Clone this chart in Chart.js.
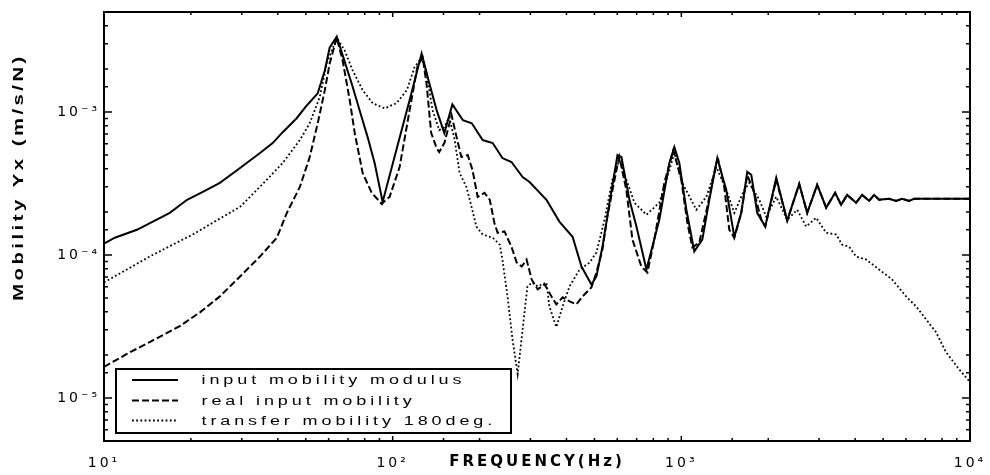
<!DOCTYPE html>
<html><head><meta charset="utf-8">
<style>html,body{margin:0;padding:0;background:#fff;}#wrap{width:990px;height:475px;}</style>
<script src="https://cdn.jsdelivr.net/npm/chart.js@4.4.1/dist/chart.umd.min.js"></script>
</head><body><div id="wrap"><canvas id="c" width="990" height="475"></canvas></div>
<script>
// ---- data (Hz, m/s/N) ----
const freqModulus = [10,10.9,13.0,16.9,19.4,22.0,25.2,29.6,34.7,38.4,41.6,46.5,50.4,55.0,58.2,60.5,64.0,72.1,78.1,81.9,86.6,92.3,103,114.5,126,134,142,151,161,175,188,205,222,240,258,282,298,341,378,420,451,488,508,533,564,601,620,661,699,757,839,909,946,984,1041,1109,1182,1250,1332,1431,1526,1613,1692,1747,1832,1953,2132,2327,2561,2729,2955,3175,3411,3577,3753,4032,4229,4472,4654,4843,5245,5545,5816,6151,6401,10000];
const modulus = [1.20e-4,1.32e-4,1.50e-4,1.97e-4,2.43e-4,2.76e-4,3.19e-4,4.06e-4,5.16e-4,6.06e-4,7.22e-4,9.04e-4,1.11e-3,1.35e-3,1.95e-3,2.82e-3,3.36e-3,1.58e-3,9.19e-4,6.67e-4,4.40e-4,2.35e-4,5.42e-4,1.21e-3,2.56e-3,1.58e-3,1.03e-3,7.11e-4,1.13e-3,8.76e-4,8.34e-4,6.36e-4,6.06e-4,4.76e-4,4.47e-4,3.51e-4,3.24e-4,2.43e-4,1.71e-4,1.34e-4,8.30e-5,6.22e-5,7.07e-5,1.14e-4,2.32e-4,5.00e-4,4.84e-4,2.43e-4,1.58e-4,7.91e-5,1.76e-4,4.40e-4,5.68e-4,4.40e-4,2.07e-4,1.06e-4,1.28e-4,2.43e-4,4.76e-4,2.85e-4,1.34e-4,1.97e-4,3.81e-4,3.63e-4,1.97e-4,1.58e-4,3.46e-4,1.74e-4,3.14e-4,1.97e-4,3.09e-4,2.14e-4,2.72e-4,2.24e-4,2.63e-4,2.32e-4,2.63e-4,2.39e-4,2.63e-4,2.43e-4,2.47e-4,2.39e-4,2.47e-4,2.39e-4,2.47e-4,2.47e-4];

const freqReal = [10,12.0,14.4,18.3,21.5,25.2,29.6,34.7,39.7,43.0,47.7,51.6,55.0,58.2,60.5,64.0,67.1,71.0,73.9,78.7,84.6,91.6,97.6,105.7,114.5,122,127,131,136,142,145,151,160,166.5,173,182,189,197,208,217,225,231,244,258,269,280,291,303,318,336,355,369,388,410,433,455,488,508,533,554,596,610,645,677,727,763,806,873,938,1000,1049,1092,1154,1230,1322,1343,1408,1466,1526,1613,1692,1789,1892,1953,2132,2327,2561,2729,2955,3175,3411,3577,3753,4032,4229,4472,4654,4843,5245,5545,5816,6151,6401,10000];
const realPart = [1.65e-5,2.03e-5,2.46e-5,3.18e-5,3.97e-5,5.13e-5,7.07e-5,9.75e-5,1.32e-4,1.97e-4,2.99e-4,4.84e-4,8.34e-4,1.42e-3,2.18e-3,3.31e-3,2.29e-3,1.21e-3,7.11e-4,3.75e-4,2.72e-4,2.28e-4,2.55e-4,4.12e-4,1.03e-3,2.11e-3,2.40e-3,1.58e-3,7.11e-4,5.59e-4,5.24e-4,6.06e-4,9.48e-4,6.67e-4,4.84e-4,5.00e-4,3.93e-4,2.55e-4,2.72e-4,2.43e-4,1.68e-4,1.43e-4,1.46e-4,1.14e-4,8.85e-5,8.30e-5,9.29e-5,6.74e-5,5.74e-5,6.22e-5,5.13e-5,4.52e-5,5.05e-5,4.74e-5,4.52e-5,5.13e-5,5.93e-5,7.54e-5,1.09e-4,1.85e-4,3.93e-4,4.84e-4,2.85e-4,1.28e-4,8.30e-5,7.54e-5,1.28e-4,3.19e-4,5.42e-4,3.35e-4,1.68e-4,1.13e-4,1.22e-4,2.17e-4,4.40e-4,4.61e-4,2.99e-4,1.50e-4,1.32e-4,1.97e-4,3.63e-4,2.72e-4,1.76e-4,1.58e-4,3.35e-4,1.74e-4,3.14e-4,1.97e-4,3.09e-4,2.14e-4,2.72e-4,2.24e-4,2.63e-4,2.32e-4,2.63e-4,2.39e-4,2.63e-4,2.43e-4,2.47e-4,2.39e-4,2.47e-4,2.39e-4,2.47e-4,2.47e-4];

const freqTransfer = [10,12.0,14.4,17.3,20.3,23.8,29.6,36.6,41.6,47.7,51.6,55.9,59.1,64.0,68.2,72.7,78.7,85.3,93.8,103,112,119,126,131,137.5,145,151,157,164,170.5,180,185,195,205,222,235,240,250,260,271,282,293,305,318,341,349,369,388,410,444,481,508,542,577,610,645,688,757,839,895,946,1008,1127,1221,1322,1431,1526,1652,1719,1862,1969,2132,2327,2520,2707,2932,3175,3438,3606,3814,4032,4368,4843,5370,6005,6504,7043,7627,8260,9161,10000];
const transfer = [6.43e-5,7.91e-5,9.75e-5,1.18e-4,1.39e-4,1.68e-4,2.17e-4,3.35e-4,4.40e-4,6.36e-4,8.34e-4,1.27e-3,2.18e-3,3.31e-3,2.69e-3,1.95e-3,1.42e-3,1.15e-3,1.06e-3,1.15e-3,1.42e-3,2.05e-3,2.40e-3,1.86e-3,1.03e-3,7.46e-4,7.82e-4,9.19e-4,6.36e-4,3.75e-4,2.99e-4,2.43e-4,1.58e-4,1.39e-4,1.32e-4,1.18e-4,9.29e-5,5.13e-5,2.58e-5,1.47e-5,3.03e-5,6.03e-5,6.43e-5,6.03e-5,6.43e-5,4.37e-5,3.13e-5,4.37e-5,6.03e-5,7.91e-5,8.85e-5,1.04e-4,1.76e-4,3.35e-4,4.61e-4,3.35e-4,2.32e-4,1.91e-4,2.32e-4,3.51e-4,5.16e-4,3.19e-4,2.07e-4,2.55e-4,4.12e-4,2.85e-4,1.97e-4,2.85e-4,3.19e-4,2.43e-4,1.85e-4,2.55e-4,1.76e-4,2.07e-4,1.58e-4,1.82e-4,1.43e-4,1.39e-4,1.18e-4,1.14e-4,9.75e-5,9.29e-5,7.91e-5,6.74e-5,5.13e-5,4.37e-5,3.55e-5,2.88e-5,2.09e-5,1.59e-5,1.29e-5];

const seriesLabels = ['input mobility modulus','real input mobility','transfer mobility 180deg.'];
const xDecades = [10,100,1000,10000];
const xTickText = ['10\u00B9','10\u00B2','10\u00B3','10\u2074'];
const yDecades = [1e-5,1e-4,1e-3];
const yTickText = ['10\u207B\u2075','10\u207B\u2074','10\u207B\u00B3'];
const xTitle = 'FREQUENCY(Hz)';
const yTitle = 'Mobility Yx (m/s/N)';

function toXY(xs, ys){ return xs.map((x,i)=>({x:x, y:ys[i]})); }
function decadeIndex(v, list){
  for (let i=0;i<list.length;i++){ if (Math.abs(Math.log10(v)-Math.log10(list[i]))<1e-6) return i; }
  return -1;
}
function isDecade(v){ const l=Math.log10(v); return Math.abs(l-Math.round(l))<1e-6; }

const framePlugin = {
  id:'frame',
  beforeDraw(chart){ chart.ctx.letterSpacing = '3px'; },
  afterDraw(chart){
    const ctx = chart.ctx, a = chart.chartArea, xs = chart.scales.x, ys = chart.scales.y;
    ctx.save();
    ctx.letterSpacing = '0px';
    ctx.strokeStyle = '#000';
    ctx.lineWidth = 1.5;
    ctx.setLineDash([]);
    ctx.beginPath();
    xs.ticks.forEach(t=>{
      const p = xs.getPixelForValue(t.value);
      if (p < a.left+1 || p > a.right-1) return;
      const L = isDecade(t.value) ? 5 : 3;
      ctx.moveTo(p, a.bottom); ctx.lineTo(p, a.bottom-L);
      ctx.moveTo(p, a.top); ctx.lineTo(p, a.top+L);
    });
    ys.ticks.forEach(t=>{
      const p = ys.getPixelForValue(t.value);
      if (p < a.top+1 || p > a.bottom-1) return;
      const L = isDecade(t.value) ? 8 : 4;
      ctx.moveTo(a.left, p); ctx.lineTo(a.left+L, p);
      ctx.moveTo(a.right, p); ctx.lineTo(a.right-L, p);
    });
    ctx.stroke();
    ctx.lineWidth = 2;
    ctx.strokeRect(a.left, a.top, a.right-a.left, a.bottom-a.top);

    // legend box
    const bx = a.left + 12, bw = 395, bh = 64, by = a.bottom - 8 - bh;
    ctx.fillStyle = '#fff';
    ctx.fillRect(bx, by, bw, bh);
    ctx.lineWidth = 2;
    ctx.strokeRect(bx, by, bw, bh);
    const rowLine = [11, 31.5, 51.5];
    const rowText = [15, 36, 56];
    chart.data.datasets.forEach((ds,i)=>{
      ctx.save();
      ctx.strokeStyle = ds.borderColor;
      ctx.lineWidth = ds.borderWidth;
      ctx.setLineDash(ds.borderDash || []);
      ctx.beginPath();
      ctx.moveTo(bx+16, by+rowLine[i]); ctx.lineTo(bx+62, by+rowLine[i]);
      ctx.stroke();
      ctx.restore();
      ctx.save();
      ctx.fillStyle = '#000';
      ctx.font = '12px "Liberation Sans", Arial, sans-serif';
      ctx.textBaseline = 'alphabetic';
      ctx.textAlign = 'left';
      ctx.translate(bx+85.5, by+rowText[i]);
      ctx.scale(1.5, 1);
      ctx.letterSpacing = '2.6px';
      ctx.fillText(ds.label, 0, 0);
      ctx.restore();
    });

    // y axis title
    ctx.save();
    ctx.fillStyle = '#000';
    ctx.font = 'bold 14px "Liberation Sans", Arial, sans-serif';
    ctx.textAlign = 'center';
    ctx.textBaseline = 'middle';
    ctx.translate(19, 177);
    ctx.rotate(-Math.PI/2);
    ctx.scale(1.45, 1);
    ctx.letterSpacing = '2.4px';
    ctx.fillText(yTitle, 0, 0);
    ctx.restore();

    ctx.restore();
  }
};

const tickFont = {family:'"DejaVu Sans", sans-serif', size:14};

new Chart(document.getElementById('c'), {
  type:'line',
  data:{ datasets:[
    {label:seriesLabels[0], data:toXY(freqModulus, modulus), borderColor:'#000', borderWidth:2, borderDash:[], pointRadius:0, tension:0, fill:false},
    {label:seriesLabels[1], data:toXY(freqReal, realPart), borderColor:'#000', borderWidth:2, borderDash:[7,3], pointRadius:0, tension:0, fill:false},
    {label:seriesLabels[2], data:toXY(freqTransfer, transfer), borderColor:'#000', borderWidth:1.8, borderDash:[1.8,2.4], pointRadius:0, tension:0, fill:false}
  ]},
  options:{
    responsive:false, animation:false, devicePixelRatio:1,
    layout:{padding:{top:12, right:20, left:0, bottom:0}},
    plugins:{legend:{display:false}, tooltip:{enabled:false}},
    scales:{
      x:{type:'logarithmic', min:10, max:10000, position:'bottom',
        grid:{display:false, drawTicks:false}, border:{display:false},
        ticks:{autoSkip:false, maxRotation:0, minRotation:0, padding:14, color:'#000', font:tickFont,
          callback:(v)=>{ const i=decadeIndex(v,xDecades); return i>=0 ? xTickText[i] : ''; }},
        title:{display:true, text:xTitle, color:'#000', font:{family:'"DejaVu Sans", sans-serif', size:15, weight:'bold'}, padding:{top:0, bottom:4}},
        afterFit:(s)=>{ s.height = 34; s.paddingLeft = 0; s.paddingRight = 0; }
      },
      y:{type:'logarithmic', min:5e-6, max:5e-3, position:'left',
        grid:{display:false, drawTicks:false}, border:{display:false},
        ticks:{autoSkip:false, padding:4, color:'#000', font:tickFont,
          callback:(v)=>{ const i=decadeIndex(v,yDecades); return i>=0 ? yTickText[i] : ''; }},
        title:{display:false, text:yTitle},
        afterFit:(s)=>{ s.width = 104; s.paddingTop = 0; s.paddingBottom = 0; }
      }
    }
  },
  plugins:[framePlugin]
});
</script>
</body></html>
